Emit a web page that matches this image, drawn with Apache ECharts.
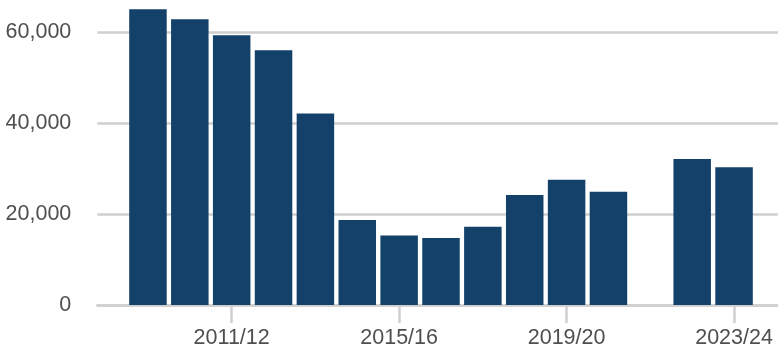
<!DOCTYPE html>
<html>
<head>
<meta charset="utf-8">
<script src="https://cdn.jsdelivr.net/npm/echarts@6/dist/echarts.min.js"></script>
<style>
  html, body { margin: 0; padding: 0; background: #fff; }
  #chart { width: 778px; height: 349px; }
</style>
</head>
<body>
<div id="chart"></div>
<script>
// Financial years, keyed by their starting year (2009 -> 2009/10); 2021/22 has no figure
const startYears = [2009, 2010, 2011, 2012, 2013, 2014, 2015, 2016, 2017, 2018, 2019, 2020, 2022, 2023];
const counts = [65000, 62800, 59300, 56000, 42100, 18700, 15300, 14700, 17200, 24200, 27500, 24900, 32100, 30300];
const labelYears = [2011, 2015, 2019, 2023];
const yTicks = [0, 20000, 40000, 60000];

function fyLabel(y) {
  const next = String((y + 1) % 100).padStart(2, '0');
  return y + '/' + next;
}

const chart = echarts.init(document.getElementById('chart'), null, { renderer: 'canvas' });
const textStyle = { color: '#4f4f4f', fontSize: 21.5, fontFamily: '"Liberation Sans", Arial, Helvetica, sans-serif' };
const ruleColor = '#cfcfcf';

chart.setOption({
  animation: false,
  backgroundColor: '#ffffff',
  grid: { left: 97.3, right: 0, top: 0, bottom: 44, containLabel: false },
  xAxis: {
    type: 'value',
    min: 2007.79,
    max: 2024.05,
    axisLine: { show: true, lineStyle: { color: ruleColor, width: 2.5 } },
    axisTick: {
      show: true,
      customValues: labelYears,
      length: 18,
      lineStyle: { color: ruleColor, width: 2.5 }
    },
    axisLabel: Object.assign({
      customValues: labelYears,
      margin: 22,
      formatter: v => fyLabel(Math.round(v))
    }, textStyle),
    splitLine: { show: false }
  },
  yAxis: {
    type: 'value',
    min: 0,
    max: 67030,
    interval: 20000,
    axisLine: { show: false },
    axisTick: { show: false },
    axisLabel: Object.assign({
      margin: 26,
      showMaxLabel: false,
      formatter: v => (yTicks.indexOf(v) >= 0 ? v.toLocaleString('en-US') : '')
    }, textStyle),
    splitLine: { show: true, showMaxLine: false, lineStyle: { color: ruleColor, width: 2.5 } }
  },
  series: [{
    type: 'bar',
    data: startYears.map((y, i) => [y, counts[i]]),
    barWidth: 37.5,
    itemStyle: { color: '#13416a' }
  }]
});
</script>
</body>
</html>
